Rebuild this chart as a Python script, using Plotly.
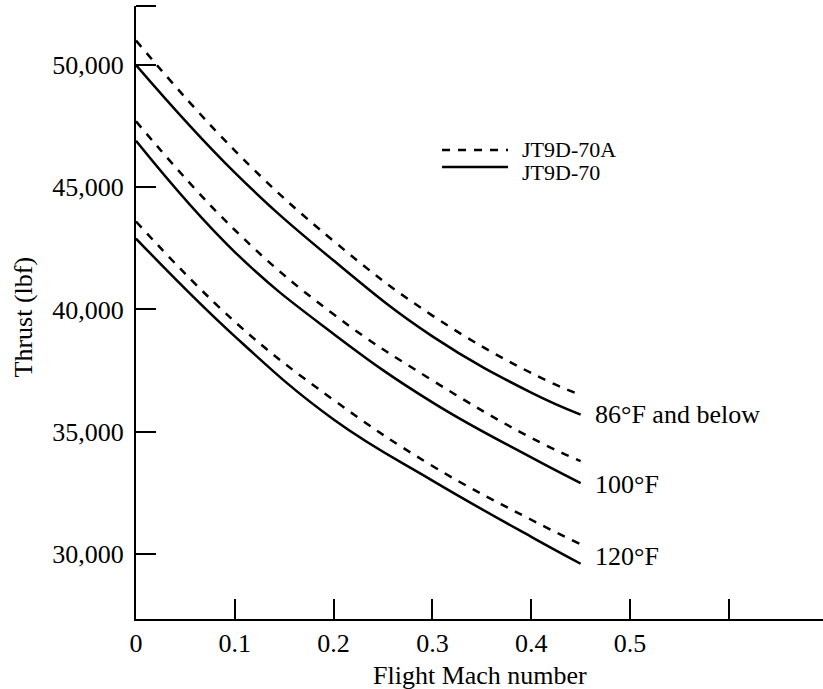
import plotly.graph_objects as go

# ---- data ----
mach = [0.0, 0.1, 0.2, 0.3, 0.4, 0.45]
jt70a_86 = [51000, 46500, 42800, 39750, 37400, 36500]
jt70_86 = [50000, 45600, 42000, 38900, 36600, 35700]
jt70a_100 = [47700, 43250, 39800, 37100, 34750, 33800]
jt70_100 = [46900, 42350, 39000, 36200, 33950, 32900]
jt70a_120 = [43600, 39500, 36300, 33600, 31400, 30400]
jt70_120 = [42900, 38900, 35500, 33000, 30700, 29600]

x_tickvals = [0, 0.1, 0.2, 0.3, 0.4, 0.5, 0.6]
x_ticktext = ["0", "0.1", "0.2", "0.3", "0.4", "0.5", ""]
y_tickvals = [30000, 35000, 40000, 45000, 50000]
y_ticktext = ["30,000", "35,000", "40,000", "45,000", "50,000"]

temp_labels = ["86°F and below", "100°F", "120°F"]
label_y = [35700, 32850, 29900]
legend_names = ["JT9D-70A", "JT9D-70"]

FONT = "Liberation Serif"
FS = 26
LW = 2.5
DASH = "8px,8px"

fig = go.Figure()
for ya, ys in [(jt70a_86, jt70_86), (jt70a_100, jt70_100), (jt70a_120, jt70_120)]:
    fig.add_trace(go.Scatter(x=mach, y=ya, mode="lines", name=legend_names[0],
                             line=dict(color="black", width=LW, dash=DASH, shape="spline", smoothing=1.2),
                             showlegend=False))
    fig.add_trace(go.Scatter(x=mach, y=ys, mode="lines", name=legend_names[1],
                             line=dict(color="black", width=LW, shape="spline", smoothing=1.2),
                             showlegend=False))

# curve labels
for txt, yv in zip(temp_labels, label_y):
    fig.add_annotation(x=0.463, y=yv, xref="x", yref="y", text=txt, showarrow=False,
                       xanchor="left", yanchor="middle",
                       font=dict(family=FONT, size=FS, color="black"))

# manual legend
sample_y = [0.7651, 0.7374]
text_y = [0.7667, 0.7276]
for i, name in enumerate(legend_names):
    fig.add_shape(type="line", xref="paper", yref="paper", x0=0.4454, x1=0.5415,
                  y0=sample_y[i], y1=sample_y[i],
                  line=dict(color="black", width=LW, dash=DASH if i == 0 else "solid"))
    fig.add_annotation(x=0.559, y=text_y[i], xref="paper", yref="paper", text=name, showarrow=False,
                       xanchor="left", yanchor="middle",
                       font=dict(family=FONT, size=22, color="black"))

# small tick at top of y axis
fig.add_shape(type="line", xref="x", yref="paper", xsizemode="pixel", xanchor=0,
              x0=0, x1=20, y0=1, y1=1, line=dict(color="black", width=2))

# axis titles
fig.add_annotation(x=0.5, y=0, xref="paper", yref="paper", yshift=-56, text="Flight Mach number",
                   showarrow=False, xanchor="center", yanchor="middle",
                   font=dict(family=FONT, size=FS, color="black"))
fig.add_annotation(x=0, y=0.5, xref="paper", yref="paper", xshift=-113, yshift=-5, text="Thrust (lbf)",
                   showarrow=False, textangle=-90, xanchor="center", yanchor="middle",
                   font=dict(family=FONT, size=FS, color="black"))

fig.update_xaxes(range=[0, 0.6953], tickvals=x_tickvals, ticktext=x_ticktext,
                 ticks="inside", ticklen=20, tickwidth=2, tickcolor="black",
                 showline=True, linecolor="black", linewidth=2, showgrid=False, zeroline=False,
                 tickfont=dict(family=FONT, size=FS, color="black"))
fig.update_yaxes(range=[27340, 52413], tickvals=y_tickvals, ticktext=y_ticktext,
                 ticks="inside", ticklen=20, tickwidth=2, tickcolor="black",
                 showline=True, linecolor="black", linewidth=2, showgrid=False, zeroline=False,
                 ticklabelstandoff=5,
                 tickfont=dict(family=FONT, size=FS, color="black"))

fig.update_layout(width=823, height=689, margin=dict(l=136, r=0, t=6, b=70),
                  plot_bgcolor="white", paper_bgcolor="white", showlegend=False)

fig.write_html("out.html")
